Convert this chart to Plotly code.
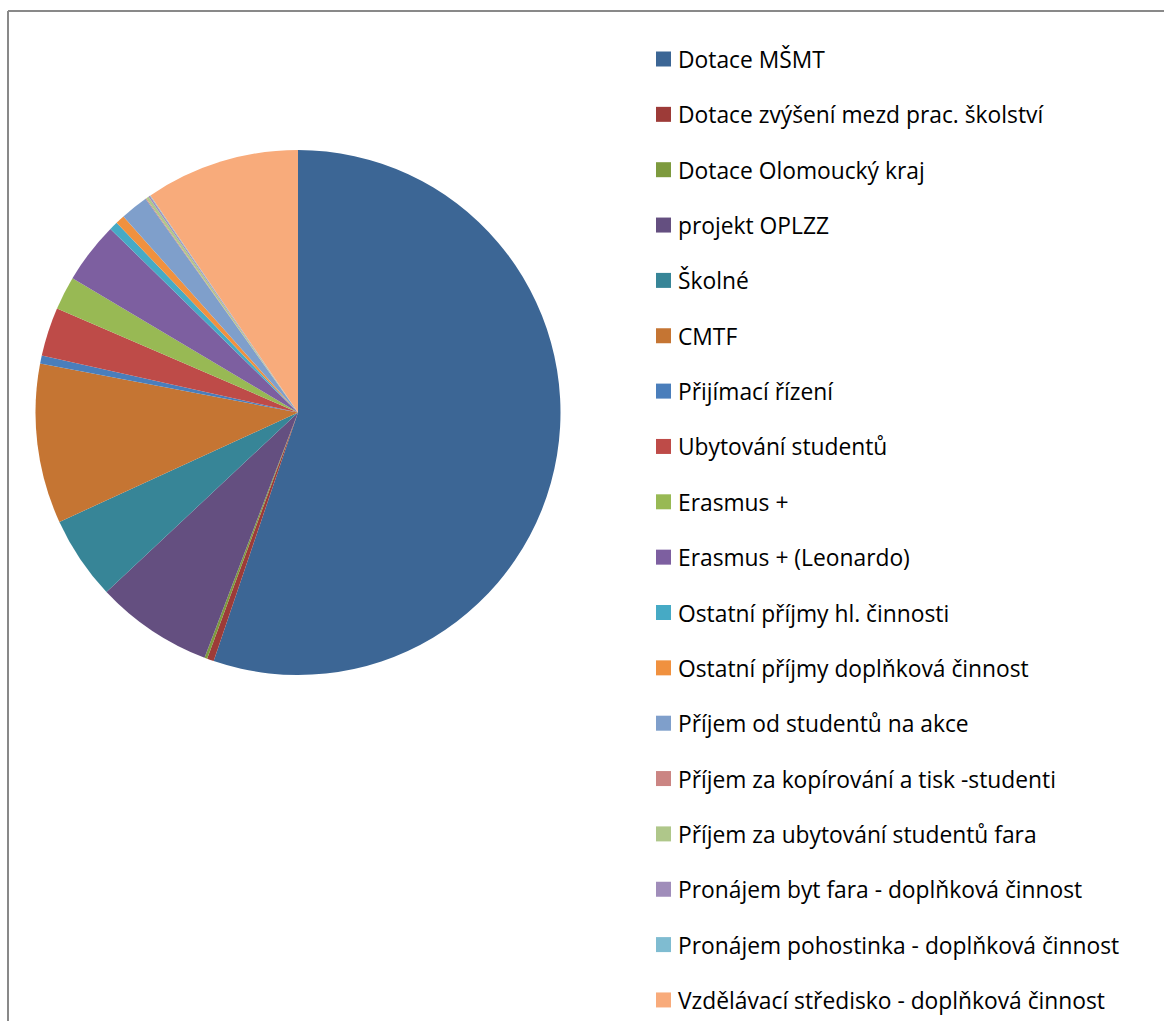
import plotly.graph_objects as go

W, H = 1165, 1021

categories = [
    "Dotace MŠMT",
    "Dotace zvýšení mezd prac. školství",
    "Dotace Olomoucký kraj",
    "projekt OPLZZ",
    "Školné",
    "CMTF",
    "Přijímací řízení",
    "Ubytování studentů",
    "Erasmus +",
    "Erasmus + (Leonardo)",
    "Ostatní příjmy hl. činnosti",
    "Ostatní příjmy doplňková činnost",
    "Příjem od studentů na akce",
    "Příjem za kopírování a tisk -studenti",
    "Příjem za ubytování studentů fara",
    "Pronájem byt fara - doplňková činnost",
    "Pronájem pohostinka - doplňková činnost",
    "Vzdělávací středisko - doplňková činnost",
]

values = [55.2, 0.42, 0.17, 7.22, 5.14, 9.83, 0.5, 3.0, 2.06, 3.78,
          0.53, 0.56, 1.72, 0.05, 0.17, 0.09, 0.05, 9.5]

colors = [
    "#3C6695", "#9D3B38", "#7D9A3E", "#644F80", "#378597", "#C57533",
    "#4A7EBB", "#BE4B48", "#98B954", "#7D5FA0", "#46AAC5", "#F0913F",
    "#7F9FCB", "#CB8583", "#AFC78A", "#A08DBA", "#7FBCD1", "#F8AB7B",
]

fig = go.Figure()
fig.add_trace(go.Pie(
    labels=categories,
    values=values,
    sort=False,
    direction="clockwise",
    rotation=0,
    marker=dict(colors=colors, line=dict(width=0)),
    textinfo="none",
    hoverinfo="label+percent",
    showlegend=False,
    domain=dict(x=[35 / W, 561 / W], y=[1 - 675 / H, 1 - 150 / H]),
))

# custom legend
shapes = []
annotations = []
y0, step = 59.0, 55.35
for i, (lab, col) in enumerate(zip(categories, colors)):
    yc = y0 + i * step
    shapes.append(dict(type="rect", xref="paper", yref="paper",
                       x0=656 / W, x1=671 / W,
                       y0=1 - (yc + 7.5) / H, y1=1 - (yc - 7.5) / H,
                       fillcolor=col, line=dict(width=0)))
    annotations.append(dict(text=lab, xref="paper", yref="paper",
                            x=676 / W, y=1 - (yc + 0.5) / H,
                            xanchor="left", yanchor="middle", showarrow=False,
                            font=dict(family="Open Sans, Carlito, Calibri, sans-serif",
                                      size=22.8, color="#000000")))

# chart frame (top and left edges)
shapes.append(dict(type="line", xref="paper", yref="paper",
                   x0=8 / W, x1=1164 / W, y0=1 - 11 / H, y1=1 - 11 / H,
                   line=dict(color="#898989", width=2)))
shapes.append(dict(type="line", xref="paper", yref="paper",
                   x0=8 / W, x1=8 / W, y0=1 - 11 / H, y1=0,
                   line=dict(color="#898989", width=2)))

fig.update_layout(
    width=W, height=H,
    margin=dict(l=0, r=0, t=0, b=0),
    paper_bgcolor="white",
    plot_bgcolor="white",
    shapes=shapes,
    annotations=annotations,
)

fig.write_html("out.html",
               config={"displayModeBar": False},
               post_script="document.body.style.margin='0px';document.body.style.overflow='hidden';")
